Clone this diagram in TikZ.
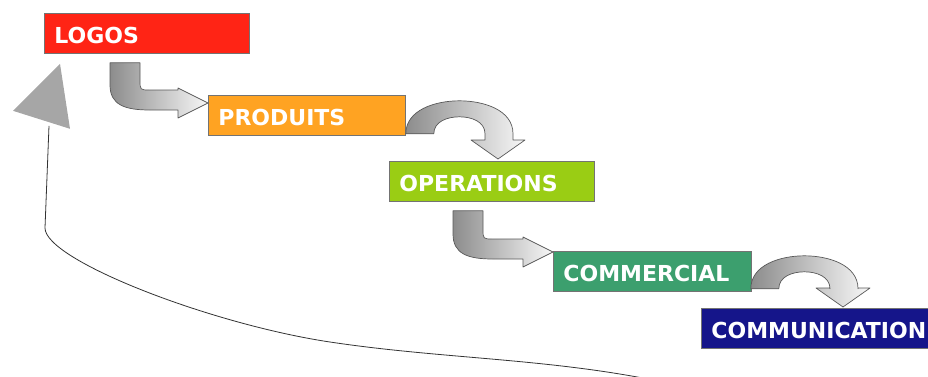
\documentclass[tikz,border=0pt]{standalone}
\usepackage{fontspec}
\setmainfont{DejaVu Sans}
\usepackage{xcolor}
\usepackage{tikz}
\usetikzlibrary{calc}

\definecolor{logored}{HTML}{FF2415}
\definecolor{prodorange}{HTML}{FFA322}
\definecolor{opergreen}{HTML}{9ACD14}
\definecolor{commgreen}{HTML}{3C9F6E}
\definecolor{commblue}{HTML}{15158A}

\newcommand\bentarrow[2]{%
  \path [blockarrow] ($(#1)+(-15,0)$) -- ($(#1|-#2)+(-15,-18)$)
    .. controls ($(#1|-#2)+(-15,2)$) and ($(#1|-#2)+(0,7)$) .. ($(#1|-#2)+(25,7)$)
    -- ($(#2)+(-30,7)$) -- ($(#2)+(-30,15)$) -- (#2) -- ($(#2)+(-30,-15)$)
    -- ($(#2)+(-30,-13)$) -- ($(#1|-#2)+(25,-13)$)
    .. controls ($(#1|-#2)+(15,-13)$) .. ($(#1|-#2)+(15,-23)$)
    -- ($(#1)+(15,0)$) -- cycle;}

\newcommand\uturnarrow[2]{%
  \coordinate (um) at ($(#1)!0.5!(#2|-#1)$);
  \path [blockarrow] (#1)
    .. controls ($(#1)+(0,-24)$) and ($(um)+(-16.5,-33)$) .. ($(um)+(7.5,-33)$)
    .. controls ($(um)+(31.5,-33)$) and ($(#2|-#1)+(15,-24)$) .. ($(#2|-#1)+(15,0)$)
    -- ($(#2)+(15,-19)$) -- ($(#2)+(27,-19)$) -- (#2) -- ($(#2)+(-27,-19)$)
    -- ($(#2)+(-13,-19)$) -- ($(#2|-#1)+(-13,0)$)
    .. controls ($(#2|-#1)+(-13,-12)$) and ($(um)+(20,-17)$) .. ($(um)+(7.5,-17)$)
    .. controls ($(um)+(-5,-17)$) and ($(#1)+(28,-12)$) .. ($(#1)+(28,0)$)
    -- cycle;}

\begin{document}
\begin{tikzpicture}[x=1pt, y=-1pt]
\tikzset{
  box/.style = {draw=black!55, line width=0.8pt, anchor=north west, minimum height=40pt, inner xsep=10pt, inner ysep=0pt, text=white, font=\fontsize{22}{26}\selectfont\bfseries, align=left, text height=20pt, text depth=0pt},
  blockarrow/.style = {draw=black!65, line width=0.7pt, line join=round, left color=black!45, right color=black!3},
  returnline/.style = {draw=black!80, line width=0.8pt},
  tipfill/.style = {fill=black!35}
}
\useasboundingbox (0,0) rectangle (928,376);
\clip (0,0) rectangle (928,376);
\node [box, fill=logored, text width=185pt] (logos) at (44,13) {LOGOS};
\node [box, fill=prodorange, text width=177pt] (produits) at (208,95) {PRODUITS};
\node [box, fill=opergreen, text width=185pt] (operations) at (389,161) {OPERATIONS};
\node [box, fill=commgreen, text width=178pt] (commercial) at (553,251) {COMMERCIAL};
\node [box, fill=commblue, text width=220pt] (communication) at (701,308) {COMMUNICATION};
\coordinate (a1s) at ($(logos.south west)+(81,9)$);
\coordinate (a1t) at ($(produits.north west)+(0,8)$);
\coordinate (a2s) at ($(produits.south east)+(0,-2)$);
\coordinate (a2t) at ($(operations.north west)+(109,-2)$);
\coordinate (a3s) at ($(operations.south west)+(79,9)$);
\coordinate (a3t) at ($(commercial.north west)+(0,1)$);
\coordinate (a4s) at ($(commercial.south east)+(-1,-3)$);
\coordinate (a4t) at ($(communication.north west)+(142,-1)$);
\bentarrow{a1s}{a1t}
\uturnarrow{a2s}{a2t}
\bentarrow{a3s}{a3t}
\uturnarrow{a4s}{a4t}
\coordinate (ret) at ($(communication.south west)+(-21,37)$);
\coordinate (back) at ($(logos.south west)+(5,72)$);
\path [returnline] (ret) .. controls (560,358) and (450,360) .. (330,342)
  .. controls (210,324) and (45,260) .. (45,228) -- (back);
\path [tipfill] ($(logos.south west)+(-31,57)$) -- ($(logos.south west)+(16,10)$)
  -- ($(logos.south west)+(26,75)$) -- cycle;
\end{tikzpicture}
\end{document}
